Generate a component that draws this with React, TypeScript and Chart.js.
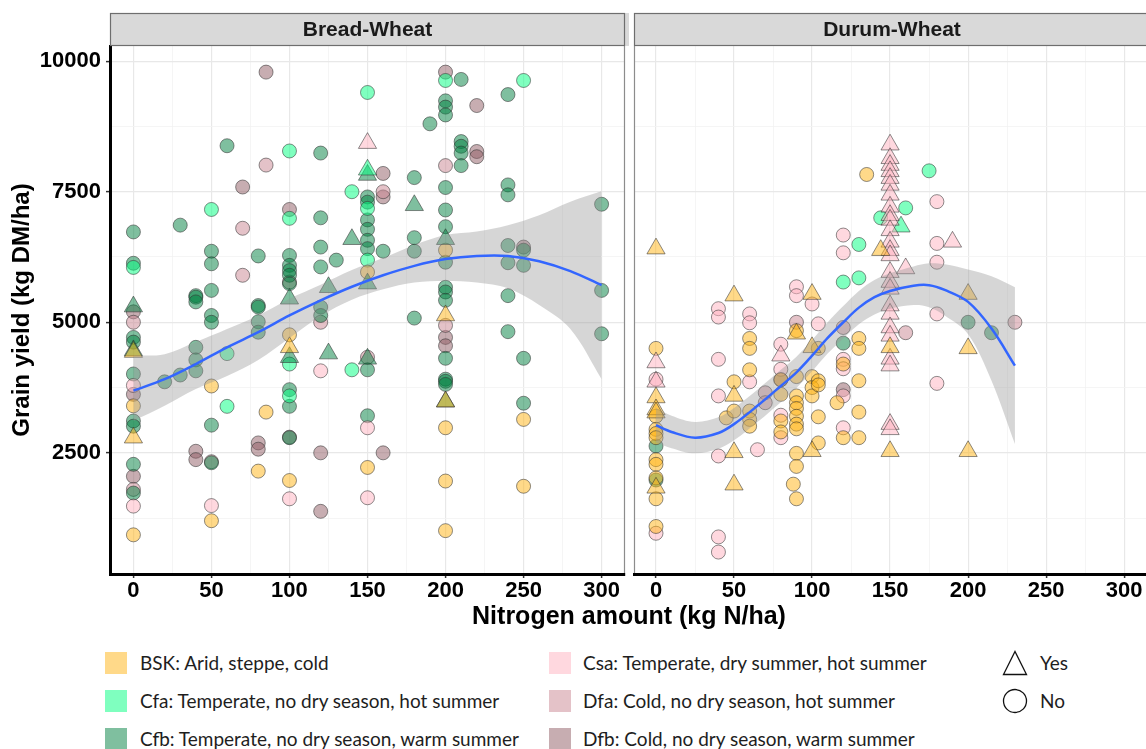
import React, { useEffect, useRef } from "react";
import { Chart, registerables } from "chart.js";

Chart.register(...registerables);

type P = [number, number];

// ---------- axes ----------
const xMajorTicks = [0, 50, 100, 150, 200, 250, 300];
const xMinorTicks = [25, 75, 125, 175, 225, 275];
const yMajorTicks = [2500, 5000, 7500, 10000];
const yMinorTicks = [1250, 3750, 6250, 8750];
const yMin = 180;
const yMax = 10290;

const panelTitles = ["Bread-Wheat", "Durum-Wheat"];
const xTitle = "Nitrogen amount (kg N/ha)";
const yTitle = "Grain yield (kg DM/ha)";

// ---------- legend ----------
const climateLabels = [
  "BSK: Arid, steppe, cold",
  "Cfa: Temperate, no dry season, hot summer",
  "Cfb: Temperate, no dry season, warm summer",
  "Csa: Temperate, dry summer, hot summer",
  "Dfa: Cold, no dry season, hot summer",
  "Dfb: Cold, no dry season, warm summer",
];
const climateColors = [
  "rgba(255,180,20,0.5)",
  "rgba(0,255,128,0.5)",
  "rgba(0,128,64,0.5)",
  "rgba(255,177,191,0.5)",
  "rgba(201,133,145,0.5)",
  "rgba(143,91,99,0.5)",
];
const shapeLabels = ["Yes", "No"];

// ---------- Bread-Wheat points ----------
const breadBSKNo: P[] = [
  [0, 3400], [0, 930], [50, 3780], [50, 1200], [85, 3280], [80, 2150],
  [100, 4760], [100, 1970], [150, 5960], [150, 2220], [200, 6380], [200, 2980],
  [200, 1960], [200, 1010], [250, 3140], [250, 1860],
];
const breadBSKYes: P[] = [
  [0, 4430], [0, 2790], [100, 4520], [200, 5130], [200, 3480],
];
const breadCfaNo: P[] = [
  [0, 6050], [50, 7160], [60, 4400], [60, 3390], [100, 8280], [100, 6990],
  [100, 4200], [100, 3590], [140, 7500], [140, 4090], [150, 9400], [150, 7180],
  [150, 6190], [200, 9630], [250, 9630],
];
const breadCfaYes: P[] = [[150, 7920]];
const breadCfbNo: P[] = [
  [0, 6730], [0, 6130], [0, 4710], [0, 4620], [0, 4010], [0, 3110], [0, 3010],
  [0, 2280], [0, 1730], [20, 3860], [30, 6860], [30, 3990],
  [40, 5510], [40, 5480], [40, 5390], [40, 4520], [40, 4280], [40, 4070],
  [50, 6360], [50, 6120], [50, 5610], [50, 5130], [50, 5000], [50, 3030], [50, 2310],
  [60, 8380], [80, 6270], [80, 5320], [80, 5290], [80, 5010], [80, 4810],
  [100, 6280], [100, 6090], [100, 5990], [100, 5900], [100, 5740], [100, 3710],
  [100, 3390], [100, 2790],
  [120, 8240], [120, 7000], [120, 6440], [120, 6060], [120, 5290], [120, 5130],
  [130, 6190],
  [150, 7400], [150, 7300], [150, 6960], [150, 6780], [150, 6570], [150, 6410],
  [150, 4090], [150, 3210],
  [160, 6360], [180, 7770], [180, 6620], [180, 6360], [180, 5080], [190, 8800],
  [200, 9240], [200, 9120], [200, 8970], [200, 7580], [200, 7150], [200, 6830],
  [200, 6150], [200, 5670], [200, 5580], [200, 5420], [200, 4310], [200, 3910],
  [200, 3870], [200, 3810],
  [210, 9650], [210, 8460], [210, 8370], [210, 8240], [210, 8000],
  [240, 9360], [240, 7630], [240, 7440], [240, 6470], [240, 6140], [240, 5510], [240, 4820],
  [250, 6380], [250, 6090], [250, 4310], [250, 3450],
  [300, 7260], [300, 5610], [300, 4780],
];
const breadCfbYes: P[] = [
  [0, 5300], [0, 4460], [100, 5450], [100, 4330], [125, 5670], [125, 4400],
  [140, 6590], [150, 7820], [150, 5740], [150, 4300], [180, 7240], [200, 6590], [200, 3480],
];
const breadCsaNo: P[] = [
  [0, 3790], [0, 1480], [50, 1490], [100, 1620], [120, 4070], [150, 2980], [150, 1640],
];
const breadCsaYes: P[] = [[150, 8430]];
const breadDfaNo: P[] = [
  [0, 5000], [0, 1800], [50, 2330], [70, 6800], [70, 5900], [85, 8010], [100, 5770],
  [120, 5000], [150, 4330], [160, 7500], [200, 4940], [200, 8000],
];
const breadDfbNo: P[] = [
  [0, 5200], [0, 3620], [0, 2050], [40, 2530], [40, 2370], [70, 7590], [80, 2690],
  [80, 2570], [85, 9790], [100, 7160], [100, 2800], [120, 2500], [120, 1380],
  [160, 7850], [160, 7400], [160, 2500], [200, 9790], [200, 4710], [200, 4550],
  [220, 9150], [220, 8270], [220, 8170], [250, 6440],
];

// ---------- Durum-Wheat points ----------
const durumBSKNo: P[] = [
  [0, 4500], [0, 3200], [0, 2950], [0, 2870], [0, 2790], [0, 2370], [0, 2280],
  [0, 2020], [0, 1620], [0, 1090], [45, 3170], [50, 3860], [50, 3300],
  [60, 4690], [60, 4500], [60, 4090], [60, 3300], [60, 3140], [60, 3010],
  [80, 3900], [80, 3620], [80, 3110], [80, 2900],
  [90, 4840], [90, 3960], [90, 3590], [90, 3460], [90, 3350], [90, 3200], [90, 3050],
  [90, 2960], [90, 2490], [90, 2240], [88, 1900], [90, 1620],
  [100, 3960], [100, 3750], [100, 3590], [104, 4500], [104, 3880], [104, 3800],
  [104, 3190], [104, 2690], [116, 3460], [120, 4200], [120, 2790],
  [130, 4690], [130, 4500], [130, 3880], [130, 3280], [130, 2790], [135, 7830],
];
const durumBSKYes: P[] = [
  [0, 6410], [0, 3560], [0, 3330], [0, 3270], [0, 1830], [50, 5510], [50, 3590],
  [50, 2510], [50, 1890], [90, 4780], [100, 5540], [100, 4520], [100, 2530],
  [144, 6380], [150, 4520], [150, 2530], [200, 5540], [200, 4500], [200, 2530],
];
const durumCfaNo: P[] = [
  [120, 5770], [130, 6490], [130, 5850], [144, 7000], [160, 7190], [175, 7900],
];
const durumCfaYes: P[] = [[157, 6830]];
const durumCfbNo: P[] = [
  [0, 2630], [0, 1980], [120, 4600], [200, 5000], [215, 4800],
];
const durumCsaNo: P[] = [
  [0, 3910], [0, 960], [40, 5260], [40, 5100], [40, 4290], [40, 3590], [40, 2440],
  [40, 890], [40, 600], [60, 5160], [60, 4990], [60, 3860], [65, 2560],
  [80, 4580], [80, 4100], [80, 3220], [80, 2790], [90, 5680], [90, 5510],
  [100, 5350], [104, 4970], [120, 6670], [120, 6330], [120, 4290], [120, 4110],
  [120, 3590], [120, 2980], [180, 7310], [180, 6510], [180, 6150], [180, 5160], [180, 3830],
];
const durumCsaYes: P[] = [
  [0, 4230], [0, 3860], [80, 4360],
  [150, 8400], [150, 8140], [150, 8010], [150, 7890], [150, 7760], [150, 7630],
  [150, 7440], [150, 7210], [150, 7050], [150, 6960], [150, 6760], [150, 6540],
  [150, 6380], [150, 6280], [150, 5960], [150, 5770], [150, 5640], [150, 5320],
  [150, 5160], [150, 4900], [150, 4740], [150, 4300], [150, 4170], [150, 3050],
  [150, 2950], [160, 6030], [190, 6540],
];
const durumDfaNo: P[] = [
  [70, 3650], [70, 3460], [90, 5000], [120, 4900], [160, 4800], [230, 5000],
];
const durumDfbNo: P[] = [[120, 3710], [80, 3900]];

// ---------- smooth fits ----------
const breadFitX = [0, 20, 40, 60, 80, 100, 120, 140, 160, 180, 200, 220, 240, 260, 280, 300];
const breadFitY = [3690, 3910, 4200, 4520, 4810, 5130, 5420, 5680, 5900, 6080, 6210, 6270, 6270, 6170, 5980, 5710];
const breadFitUpper = [4360, 4390, 4620, 4870, 5130, 5450, 5720, 6000, 6230, 6480, 6670, 6740, 6860, 7050, 7310, 7510];
const breadFitLower = [3110, 3400, 3720, 3970, 4280, 4700, 5120, 5430, 5630, 5760, 5790, 5760, 5650, 5330, 4870, 3910];

const durumFitX = [0, 10, 25, 40, 50, 65, 80, 90, 100, 110, 120, 130, 140, 150, 165, 175, 185, 200, 215, 230];
const durumFitY = [3030, 2900, 2790, 2880, 3050, 3400, 3780, 4040, 4360, 4700, 5000, 5280, 5480, 5600, 5700, 5710, 5620, 5390, 4880, 4170];
const durumFitUpper = [3360, 3210, 3090, 3180, 3360, 3710, 4090, 4340, 4660, 5000, 5310, 5600, 5810, 5940, 6070, 6130, 6110, 6010, 5880, 5670];
const durumFitLower = [2700, 2590, 2490, 2580, 2740, 3090, 3470, 3740, 4060, 4400, 4690, 4960, 5150, 5260, 5330, 5290, 5130, 4770, 3880, 2670];

type Series = { climate: number; yes: boolean; data: P[] };

const breadSeries: Series[] = [
  { climate: 5, yes: false, data: breadDfbNo },
  { climate: 4, yes: false, data: breadDfaNo },
  { climate: 2, yes: false, data: breadCfbNo },
  { climate: 1, yes: false, data: breadCfaNo },
  { climate: 3, yes: false, data: breadCsaNo },
  { climate: 0, yes: false, data: breadBSKNo },
  { climate: 2, yes: true, data: breadCfbYes },
  { climate: 1, yes: true, data: breadCfaYes },
  { climate: 3, yes: true, data: breadCsaYes },
  { climate: 0, yes: true, data: breadBSKYes },
];
const durumSeries: Series[] = [
  { climate: 5, yes: false, data: durumDfbNo },
  { climate: 4, yes: false, data: durumDfaNo },
  { climate: 2, yes: false, data: durumCfbNo },
  { climate: 1, yes: false, data: durumCfaNo },
  { climate: 3, yes: false, data: durumCsaNo },
  { climate: 0, yes: false, data: durumBSKNo },
  { climate: 1, yes: true, data: durumCfaYes },
  { climate: 3, yes: true, data: durumCsaYes },
  { climate: 0, yes: true, data: durumBSKYes },
];

const AX_FONT = '"Liberation Sans", Arial, Helvetica, sans-serif';
const LEG_FONT = 'Lato, "Open Sans", sans-serif';

function buildDatasets(series: Series[], fx: number[], fy: number[], lo: number[], up: number[]) {
  const ds: any[] = [];
  series.forEach((s, i) => {
    ds.push({
      type: "scatter",
      data: s.data.map(([x, y]) => ({ x, y })),
      pointStyle: s.yes ? "triangle" : "circle",
      pointRadius: s.yes ? 10.5 : 7,
      backgroundColor: climateColors[s.climate],
      borderColor: "rgba(50,50,50,0.55)",
      borderWidth: 1,
      order: 10 + series.length - i,
    });
  });
  ds.push({
    type: "line",
    data: fx.map((x, i) => ({ x, y: lo[i] })),
    borderWidth: 0,
    borderColor: "rgba(0,0,0,0)",
    pointRadius: 0,
    tension: 0.35,
    fill: false,
    order: 2,
  });
  ds.push({
    type: "line",
    data: fx.map((x, i) => ({ x, y: up[i] })),
    borderWidth: 0,
    borderColor: "rgba(0,0,0,0)",
    backgroundColor: "rgba(153,153,153,0.4)",
    pointRadius: 0,
    tension: 0.35,
    fill: "-1",
    order: 1,
  });
  ds.push({
    type: "line",
    data: fx.map((x, i) => ({ x, y: fy[i] })),
    borderColor: "#3366FF",
    borderWidth: 2.5,
    pointRadius: 0,
    tension: 0.35,
    fill: false,
    order: 0,
  });
  return ds;
}

function stripPlugin(title: string, edge: "left" | "right") {
  return {
    id: "strip",
    afterDraw(chart: any) {
      const { ctx, chartArea } = chart;
      const { left, right, top, bottom } = chartArea;
      ctx.save();
      ctx.strokeStyle = "#8c8c8c";
      ctx.lineWidth = 1.2;
      ctx.beginPath();
      const ex = edge === "right" ? right - 0.5 : left + 0.5;
      ctx.moveTo(ex, top);
      ctx.lineTo(ex, bottom - 1);
      ctx.stroke();
      const sTop = 13;
      ctx.fillStyle = "#d9d9d9";
      ctx.fillRect(left, sTop, right - left + 4, top - sTop);
      ctx.strokeStyle = "#6e6e6e";
      ctx.lineWidth = 1.2;
      ctx.strokeRect(left + 0.5, sTop + 0.5, right - left - 1 + (edge === "left" ? 10 : 0), top - sTop - 1);
      ctx.fillStyle = "#1a1a1a";
      ctx.font = `bold 21px ${AX_FONT}`;
      ctx.textAlign = "center";
      ctx.textBaseline = "middle";
      ctx.fillText(title, (left + right) / 2 + (edge === "left" ? 2 : 0), (sTop + top) / 2 + 1);
      ctx.restore();
    },
  };
}

function xScale(min: number, max: number) {
  const all = [...xMajorTicks, ...xMinorTicks].sort((a, b) => a - b);
  return {
    type: "linear",
    min,
    max,
    afterBuildTicks: (s: any) => {
      s.ticks = all.map((v) => ({ value: v }));
    },
    afterFit: (s: any) => {
      s.height = 31;
      s.paddingLeft = 0;
      s.paddingRight = 0;
    },
    ticks: {
      autoSkip: false,
      maxRotation: 0,
      padding: 0,
      color: "#000",
      font: { family: AX_FONT, size: 22, weight: "bold" },
      callback: (v: number) => (xMajorTicks.includes(v) ? String(v) : ""),
    },
    grid: {
      color: (c: any) => (c.tick && xMajorTicks.includes(c.tick.value) ? "#e8e8e8" : "#f3f3f3"),
      lineWidth: (c: any) => (c.tick && xMajorTicks.includes(c.tick.value) ? 1.2 : 0.8),
      tickColor: (c: any) => (c.tick && xMajorTicks.includes(c.tick.value) ? "#333" : "rgba(0,0,0,0)"),
      tickLength: 4,
      tickWidth: 1.5,
    },
    border: { display: true, color: "#000", width: 3 },
  };
}

function yScale(showLabels: boolean) {
  const all = [...yMinorTicks, ...yMajorTicks].sort((a, b) => a - b);
  return {
    type: "linear",
    min: yMin,
    max: yMax,
    afterBuildTicks: (s: any) => {
      s.ticks = all.map((v) => ({ value: v }));
    },
    afterFit: (s: any) => {
      s.width = showLabels ? 110 : 0;
      s.paddingTop = 0;
      s.paddingBottom = 0;
    },
    ticks: {
      display: showLabels,
      autoSkip: false,
      padding: 5,
      color: "#000",
      font: { family: AX_FONT, size: 22, weight: "bold" },
      callback: (v: number) => (yMajorTicks.includes(v) ? String(v) : ""),
    },
    title: {
      display: showLabels,
      text: yTitle,
      color: "#000",
      font: { family: AX_FONT, size: 24, weight: "bold" },
      padding: { top: 8, bottom: 0 },
    },
    grid: {
      color: (c: any) => (c.tick && yMajorTicks.includes(c.tick.value) ? "#e8e8e8" : "#f3f3f3"),
      lineWidth: (c: any) => (c.tick && yMajorTicks.includes(c.tick.value) ? 1.2 : 0.8),
      tickColor: (c: any) => (showLabels && c.tick && yMajorTicks.includes(c.tick.value) ? "#333" : "rgba(0,0,0,0)"),
      drawTicks: showLabels,
      tickLength: 4,
      tickWidth: 1.5,
    },
    border: { display: showLabels, color: "#000", width: 3 },
  };
}

function makeConfig(series: Series[], fx: number[], fy: number[], lo: number[], up: number[], left: boolean) {
  return {
    type: "scatter",
    data: { datasets: buildDatasets(series, fx, fy, lo, up) },
    options: {
      responsive: false,
      animation: false,
      devicePixelRatio: 1,
      events: [],
      layout: {
        autoPadding: false,
        padding: left ? { left: 0, right: 5, top: 46, bottom: 0 } : { left: 4, right: 0, top: 46, bottom: 0 },
      },
      scales: {
        x: left ? xScale(-15, 315) : xScale(-14.1, 314),
        y: yScale(left),
      },
      plugins: { legend: { display: false }, tooltip: { enabled: false } },
    },
    plugins: [stripPlugin(left ? panelTitles[0] : panelTitles[1], left ? "right" : "left")],
  } as any;
}

function Swatch({ color }: { color: string }) {
  return <div style={{ width: 22, height: 22, background: color }} />;
}

export default function App() {
  const leftRef = useRef<HTMLCanvasElement>(null);
  const rightRef = useRef<HTMLCanvasElement>(null);

  useEffect(() => {
    const c1 = new Chart(leftRef.current!, makeConfig(breadSeries, breadFitX, breadFitY, breadFitLower, breadFitUpper, true));
    const c2 = new Chart(rightRef.current!, makeConfig(durumSeries, durumFitX, durumFitY, durumFitLower, durumFitUpper, false));
    return () => {
      c1.destroy();
      c2.destroy();
    };
  }, []);

  const rowY = [662.5, 701, 739];
  const legText: React.CSSProperties = {
    position: "absolute",
    fontFamily: LEG_FONT,
    fontSize: 19,
    lineHeight: "24px",
    color: "#1e1e1e",
    whiteSpace: "nowrap",
  };

  return (
    <div style={{ position: "absolute", left: 0, top: 0, width: 1146, height: 749, overflow: "hidden", background: "#fff" }}>
      <canvas ref={leftRef} width={630} height={605} style={{ position: "absolute", left: 0, top: 0 }} />
      <canvas ref={rightRef} width={516} height={605} style={{ position: "absolute", left: 630, top: 0 }} />
      <div
        style={{
          position: "absolute",
          left: 629,
          top: 600,
          transform: "translateX(-50%)",
          fontFamily: AX_FONT,
          fontWeight: "bold",
          fontSize: 25,
          lineHeight: "30px",
          color: "#000",
          whiteSpace: "nowrap",
        }}
      >
        {xTitle}
      </div>
      {climateLabels.map((lab, i) => {
        const col = i < 3 ? 0 : 1;
        const row = i % 3;
        const sx = col === 0 ? 105 : 549;
        const tx = col === 0 ? 140 : 583;
        return (
          <React.Fragment key={lab}>
            <div style={{ position: "absolute", left: sx, top: rowY[row] - 11 }}>
              <Swatch color={climateColors[i]} />
            </div>
            <div style={{ ...legText, left: tx, top: rowY[row] - 12 }}>{lab}</div>
          </React.Fragment>
        );
      })}
      {shapeLabels.map((lab, i) => (
        <React.Fragment key={lab}>
          <svg style={{ position: "absolute", left: 1002, top: rowY[i] - 13 }} width={26} height={26}>
            {i === 0 ? (
              <polygon points="13,1.5 24.5,24.5 1.5,24.5" fill="none" stroke="#111" strokeWidth={1.3} />
            ) : (
              <circle cx={13} cy={13} r={11.5} fill="none" stroke="#111" strokeWidth={1.3} />
            )}
          </svg>
          <div style={{ ...legText, left: 1040, top: rowY[i] - 12 }}>{lab}</div>
        </React.Fragment>
      ))}
    </div>
  );
}
